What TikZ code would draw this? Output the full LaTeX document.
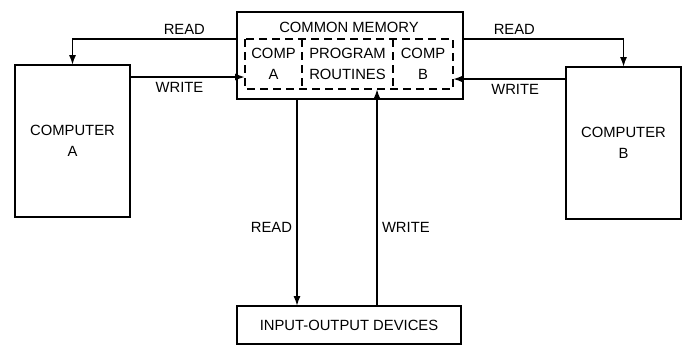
\documentclass[tikz,border=0pt]{standalone}
\usepackage{fontspec}
\setmainfont{Liberation Sans}
\usetikzlibrary{arrows.meta}

\begin{document}
\begin{tikzpicture}[x=0.5pt,y=-0.5pt,
  every node/.style={font=\fontsize{7.4}{10.5}\selectfont,align=center,inner sep=0pt,outer sep=0pt},
  unit/.style={draw,line width=0.9pt,minimum width=57.5pt,minimum height=76pt},
  cell/.style={minimum height=25pt},
  link/.style={line width=0.9pt,-{Latex[length=5pt,width=3.6pt]}},
  tag/.style={inner sep=2.5pt}]
\useasboundingbox (0,0) rectangle (685,345);

% the two computers
\node[unit] (compA) at (72.5,141) {COMPUTER\\A};
\node[unit] (compB) at (623.5,143) {COMPUTER\\B};

% common memory and its three areas
\node[draw,line width=0.9pt,minimum width=113pt,minimum height=43.5pt] (memory) at (350,55.5) {};
\node (memtitle) at (349,27) {COMMON MEMORY};
\node[cell,minimum width=28.5pt] (compa) at (273.5,64) {COMP\\A};
\node[cell,minimum width=45.5pt] (prog) at (347.5,64) {PROGRAM\\ROUTINES};
\node[cell,minimum width=30pt] (compb) at (423,64) {COMP\\B};
\draw[line width=0.8pt,dash pattern=on 4pt off 2.5pt] (compa.north west) rectangle (compb.south east);
\draw[line width=0.8pt,dash pattern=on 4pt off 2.5pt] (prog.north west) -- (prog.south west)
  (prog.north east) -- (prog.south east);

% input-output
\node[draw,line width=0.9pt,minimum width=112pt,minimum height=19pt] (io) at (349,325) {INPUT-OUTPUT DEVICES};

\coordinate (wa) at ([yshift=6pt]compa.south west);
\coordinate (wb) at ([yshift=5pt]compb.south east);
\coordinate (rd) at ([xshift=-26pt]io.north);
\coordinate (wr) at ([xshift=14pt]io.north);

% read and write paths
\draw[link] (memory.west |- compa.north) -| node[tag,above,pos=0.16] {READ} (compA.north);
\draw[link] (compA.east |- wa) -- node[tag,below,pos=0.43] {WRITE} (wa);
\draw[link] (memory.east |- compb.north) -| node[tag,above,pos=0.16] {READ} (compB.north);
\draw[link] (compB.west |- wb) -- node[tag,below,pos=0.45] {WRITE} (wb);
\draw[link] (memory.south -| rd) -- node[tag,left,pos=0.62] {READ} (rd);
\draw[link] (wr) -- node[tag,right,pos=0.36] {WRITE} (prog.south -| wr);
\end{tikzpicture}
\end{document}
